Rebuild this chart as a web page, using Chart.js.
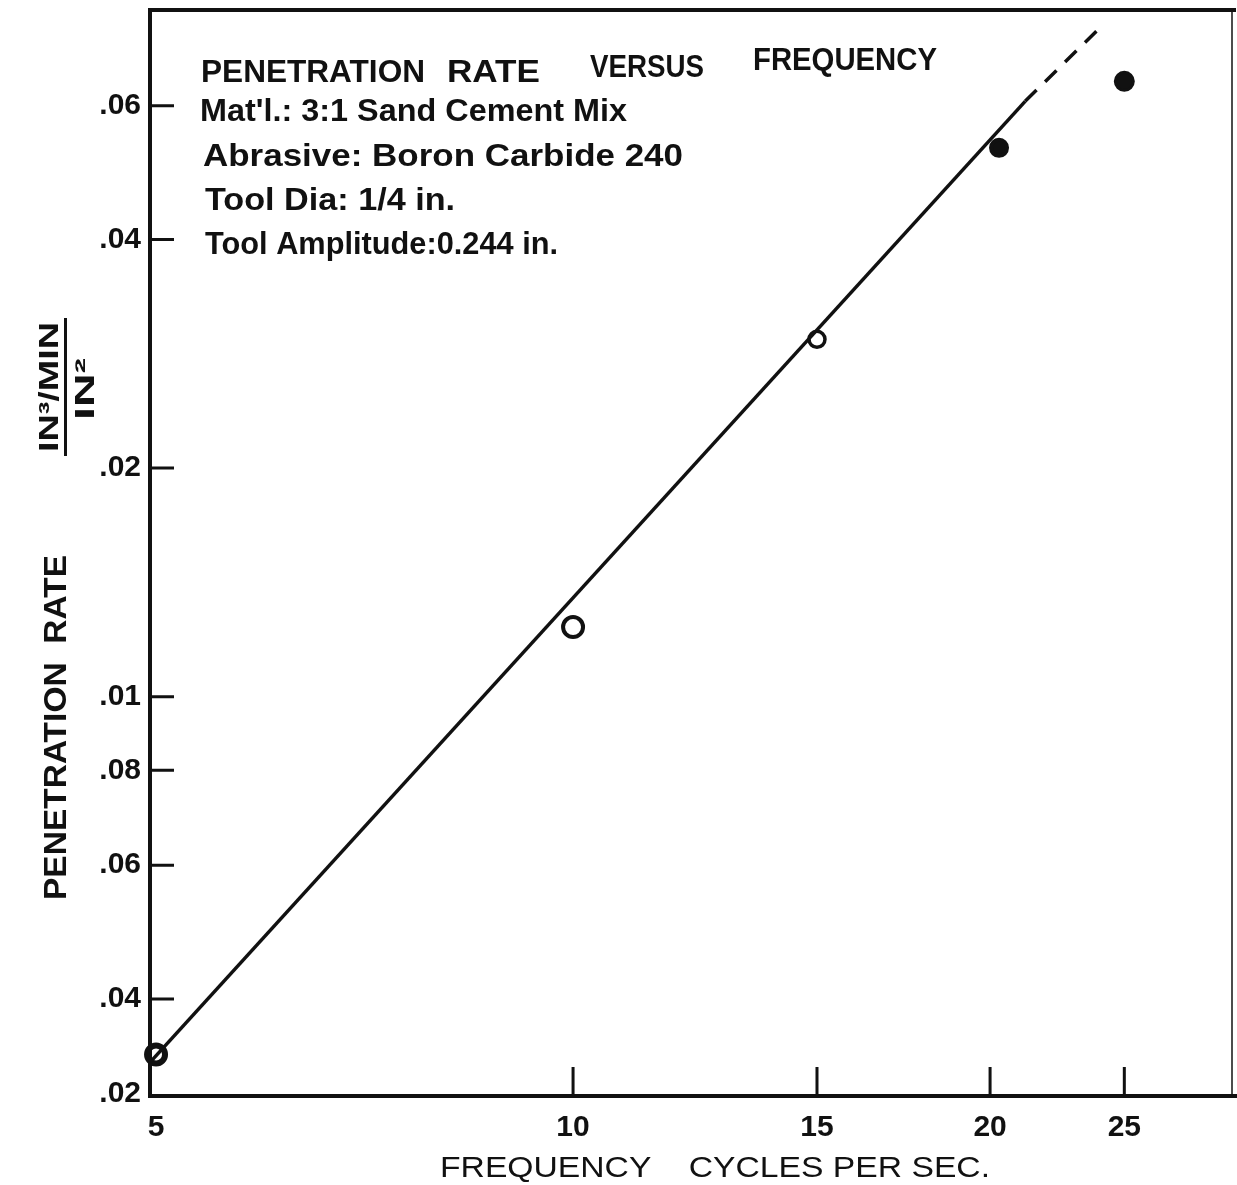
<!DOCTYPE html>
<html>
<head>
<meta charset="utf-8">
<script src="https://cdn.jsdelivr.net/npm/chart.js@4.4.1/dist/chart.umd.min.js"></script>
<style>
  body { margin: 0; background: #fff; }
  #wrap { width: 1237px; height: 1185px; }
</style>
</head>
<body>
<div id="wrap"><canvas id="myChart" width="1237" height="1185"></canvas></div>
<script>
// measured points (frequency in c/s, penetration rate)
const freq = [5, 10, 15, 20.3, 25];
const rate = [0.00338, 0.01235, 0.02955, 0.0528, 0.0646];

// fitted line, solid part and dashed extension
const fitX = [4.95, 21.2];
const fitY = [0.0033, 0.0608];
const dashX = [21.2, 23.9];
const dashY = [0.0608, 0.0754];

// axis ticks (labels as printed on the sheet)
const xTickValues = [5, 10, 15, 20, 25];
const xTickLabels = ['5', '10', '15', '20', '25'];
const yTickValues = [0.003, 0.004, 0.006, 0.008, 0.01, 0.02, 0.04, 0.06];
const yTickLabels = ['.02', '.04', '.06', '.08', '.01', '.02', '.04', '.06'];

const ink = '#111';
const font = '"Liberation Sans", Arial, sans-serif';

function toPoints(xs, ys) {
    return xs.map((x, i) => ({ x: x, y: ys[i] }));
}

// squeeze or stretch a text to a given width
function fitText(ctx, text, x, y, w) {
    const m = ctx.measureText(text).width;
    ctx.save();
    ctx.translate(x, y);
    ctx.scale(w / m, 1);
    ctx.textAlign = 'left';
    ctx.fillText(text, 0, 0);
    ctx.restore();
}

// no extra room for the end labels, the frame sets the plot area
function noPadding(axis) {
    axis.paddingTop = 0;
    axis.paddingBottom = 0;
    axis.paddingLeft = 0;
    axis.paddingRight = 0;
}

const sheet = {
    id: 'sheet',
    afterDraw(chart) {
        const ctx = chart.ctx;
        const a = chart.chartArea;
        const xs = chart.scales.x, ys = chart.scales.y;
        ctx.save();
        ctx.strokeStyle = ink;
        ctx.fillStyle = ink;
        ctx.lineCap = 'butt';

        // frame
        ctx.lineWidth = 4;
        ctx.beginPath();
        ctx.moveTo(a.left, a.bottom + 2);
        ctx.lineTo(a.left, a.top);
        ctx.lineTo(a.right + 4, a.top);
        ctx.moveTo(a.left - 2, a.bottom);
        ctx.lineTo(chart.width, a.bottom);
        ctx.stroke();
        ctx.lineWidth = 1.5;
        ctx.beginPath();
        ctx.moveTo(a.right, a.top);
        ctx.lineTo(a.right, a.bottom);
        ctx.stroke();

        // inward tick marks
        ctx.lineWidth = 3;
        ctx.beginPath();
        yTickValues.forEach(v => {
            const py = ys.getPixelForValue(v);
            if (v > ys.min * 1.01) {
                ctx.moveTo(a.left, py);
                ctx.lineTo(a.left + 24, py);
            }
        });
        xTickValues.forEach(v => {
            const px = xs.getPixelForValue(v);
            if (v > xs.min * 1.02) {
                ctx.moveTo(px, a.bottom);
                ctx.lineTo(px, a.bottom - 29);
            }
        });
        ctx.stroke();

        // notes in the upper left
        ctx.font = 'bold 32px ' + font;
        ctx.textBaseline = 'alphabetic';
        fitText(ctx, 'PENETRATION', 201, 82, 224);
        fitText(ctx, 'RATE', 447, 82, 93);
        fitText(ctx, 'VERSUS', 590, 77, 114);
        fitText(ctx, 'FREQUENCY', 753, 70, 184);
        fitText(ctx, "Mat'l.: 3:1 Sand Cement Mix", 200, 121, 427);
        fitText(ctx, 'Abrasive: Boron Carbide 240', 203, 166, 480);
        fitText(ctx, 'Tool Dia: 1/4 in.', 205, 210, 250);
        fitText(ctx, 'Tool Amplitude:0.244 in.', 205, 254, 353);

        // x axis title
        ctx.font = '30px ' + font;
        fitText(ctx, 'FREQUENCY    CYCLES PER SEC.', 440, 1177, 550);

        // y axis title, rotated
        ctx.save();
        ctx.rotate(-Math.PI / 2);
        ctx.font = 'bold 31px ' + font;
        fitText(ctx, 'PENETRATION  RATE', -900, 66, 345);
        ctx.font = 'bold 28px ' + font;
        fitText(ctx, 'IN³/MIN', -452, 58, 130);
        fitText(ctx, 'IN²', -420, 94, 62);
        ctx.fillRect(-456, 64, 138, 3);
        ctx.restore();

        ctx.restore();
    }
};

new Chart(document.getElementById('myChart').getContext('2d'), {
    type: 'scatter',
    data: {
        datasets: [{
            label: 'fit',
            data: toPoints(fitX, fitY),
            showLine: true,
            borderColor: ink,
            borderWidth: 3.5,
            pointRadius: 0
        }, {
            label: 'extension',
            data: toPoints(dashX, dashY),
            showLine: true,
            borderColor: ink,
            borderWidth: 3.5,
            borderDash: [16, 12],
            pointRadius: 0
        }, {
            label: 'measured',
            data: toPoints(freq, rate),
            pointRadius: [9, 10, 8, 8, 9],
            pointBorderWidth: [6, 4, 3.5, 4, 3],
            pointBorderColor: ink,
            pointBackgroundColor: ['#fff', '#fff', '#fff', ink, ink]
        }]
    },
    options: {
        responsive: false,
        animation: false,
        clip: false,
        layout: { autoPadding: false, padding: { top: 10, right: 5, left: 0, bottom: 0 } },
        plugins: { legend: { display: false }, tooltip: { enabled: false } },
        scales: {
            x: {
                type: 'logarithmic',
                min: 4.95,
                max: 29.9,
                grid: { display: false, drawTicks: false },
                border: { display: false },
                afterBuildTicks: axis => { axis.ticks = xTickValues.map(v => ({ value: v })); },
                afterFit: axis => { axis.height = 89; noPadding(axis); },
                ticks: {
                    autoSkip: false,
                    maxRotation: 0,
                    padding: 14,
                    color: ink,
                    font: { family: font, size: 30, weight: 'bold' },
                    callback: (v, i) => xTickLabels[i]
                }
            },
            y: {
                type: 'logarithmic',
                min: 0.00298,
                max: 0.0802,
                grid: { display: false, drawTicks: false },
                border: { display: false },
                afterBuildTicks: axis => { axis.ticks = yTickValues.map(v => ({ value: v })); },
                afterFit: axis => { axis.width = 150; noPadding(axis); },
                ticks: {
                    autoSkip: false,
                    padding: 9,
                    color: ink,
                    font: { family: font, size: 30, weight: 'bold' },
                    callback: (v, i) => yTickLabels[i]
                }
            }
        }
    },
    plugins: [sheet]
});
</script>
</body>
</html>
